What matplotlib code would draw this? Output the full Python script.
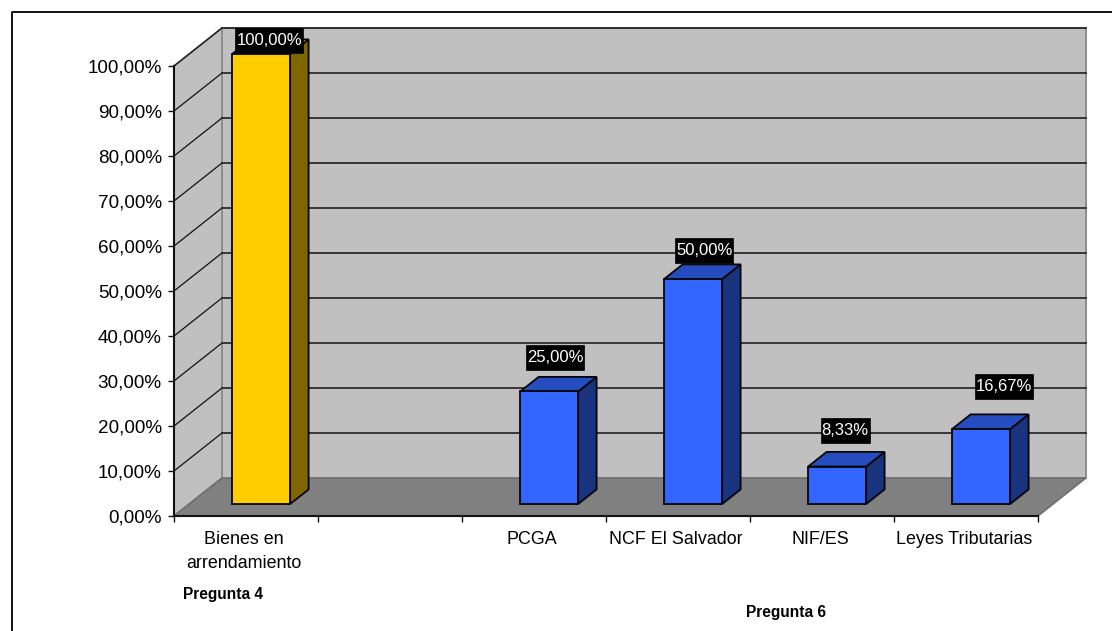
import numpy as np
import matplotlib
matplotlib.use("Agg")
import matplotlib.pyplot as plt
from matplotlib.patches import Polygon
from matplotlib.lines import Line2D
from matplotlib.path import Path
from matplotlib.transforms import ScaledTranslation

categories = ["Bienes en\narrendamiento", "", "PCGA", "NCF El Salvador", "NIF/ES", "Leyes Tributarias"]
values = [100.00, None, 25.00, 50.00, 8.33, 16.67]
value_labels = ["100,00%", None, "25,00%", "50,00%", "8,33%", "16,67%"]
y_ticks = [0, 10, 20, 30, 40, 50, 60, 70, 80, 90, 100]
y_tick_labels = ["0,00%", "10,00%", "20,00%", "30,00%", "40,00%", "50,00%",
                 "60,00%", "70,00%", "80,00%", "90,00%", "100,00%"]
group_notes = ["Pregunta 4", "Pregunta 6"]

# Label nudges in pixels, measured from the top centre of each bar's front face
label_nudges = [(8, 13), None, (6, 34), (11, 28), (8, 36), (23, 42)]
face_colors = ["#FFCC00", None, "#3366FF", "#3366FF", "#3366FF", "#3366FF"]
top_colors = ["#CCA300", None, "#264DBF", "#264DBF", "#264DBF", "#264DBF"]
side_colors = ["#7F6600", None, "#19337F", "#19337F", "#19337F", "#19337F"]

W, H = 1112, 631
plt.rcParams["font.family"] = ["Liberation Sans", "DejaVu Sans"]
fig = plt.figure(figsize=(W / 100, H / 100), dpi=100, facecolor="white")

# The axes span the front plane of the oblique 3D box
X0, X1, Y0, Y1 = 174, 1038, 516, 66
ax = fig.add_axes([X0 / W, 1 - Y0 / H, (X1 - X0) / W, (Y0 - Y1) / H])
ax.set_xlim(0, len(categories))
ax.set_ylim(0, 100)
ax.patch.set_visible(False)

# Depth of the box, expressed in data units per unit of depth
DX = 48 / ((X1 - X0) / len(categories))
DY = 38 / ((Y0 - Y1) / 100)


def project(x, v, d):
    return (x + d * DX, v + d * DY)


def face(points, color, edge, lw=1.0, z=1):
    ax.add_patch(Polygon([project(*p) for p in points], closed=True, facecolor=color,
                         edgecolor=edge, linewidth=lw, clip_on=False, zorder=z,
                         joinstyle="miter"))


def label_box(x0, y0, width, height, mutation_size):
    # Black plate with more padding above and below the digits than beside them
    px, py = 1.0, 5.0
    x_a, x_b = x0 - px, x0 + width + px
    y_a, y_b = y0 - py, y0 + height + py
    return Path([(x_a, y_a), (x_b, y_a), (x_b, y_b), (x_a, y_b), (x_a, y_a)], closed=True)


n = len(categories)
face([(0, 0, 1), (n, 0, 1), (n, 100, 1), (0, 100, 1)], "#C0C0C0", "#8C8C8C", 1.4, 1)
face([(0, 0, 0), (0, 0, 1), (0, 100, 1), (0, 100, 0)], "#C0C0C0", "#8C8C8C", 1.4, 1)
face([(0, 0, 0), (n, 0, 0), (n, 0, 1), (0, 0, 1)], "#808080", "#6E6E6E", 1.1, 2)

# Gridlines run along the side wall and then across the back wall
for t in y_ticks[1:]:
    xs, ys = zip(project(0, t, 0), project(0, t, 1))
    ax.add_line(Line2D(xs, ys, color="#111111", lw=0.9, clip_on=False, zorder=3))
    xs, ys = zip(project(0, t, 1), project(n, t, 1))
    ax.add_line(Line2D(xs, ys, color="#262626", lw=1.25, clip_on=False, zorder=3))

# Bars sit in the middle of the floor depth
D0, D1 = 0.316, 0.70
BAR_W = 58 / ((X1 - X0) / n)
for i, v in enumerate(values):
    if v is None:
        continue
    left = i + 0.5 - BAR_W / 2
    right = left + BAR_W
    z = 5
    edge = "#050505"
    face([(right, 0, D0), (right, 0, D1), (right, v, D1), (right, v, D0)], side_colors[i], edge, 1.3, z)
    face([(left, v, D0), (right, v, D0), (right, v, D1), (left, v, D1)], top_colors[i], edge, 1.3, z)
    face([(left, 0, D0), (right, 0, D0), (right, v, D0), (left, v, D0)], face_colors[i], edge, 1.3, z)
    ax.annotate(value_labels[i], xy=project(i + 0.5, v, D0), xycoords="data",
                xytext=label_nudges[i], textcoords="offset pixels",
                ha="center", va="center", color="white", fontsize=12, zorder=8,
                annotation_clip=False,
                bbox=dict(boxstyle=label_box, facecolor="black", edgecolor="black", linewidth=0.5))

for side in ("top", "right"):
    ax.spines[side].set_visible(False)
for side in ("left", "bottom"):
    ax.spines[side].set_linewidth(1.5)
    ax.spines[side].set_color("#111111")
    ax.spines[side].set_zorder(6)

ax.set_yticks(y_ticks)
ax.set_yticklabels(y_tick_labels, fontsize=13.6)
ax.tick_params(axis="y", length=4.3, width=1.0, pad=4.5, color="#111111")

ax.set_xticks(np.arange(n + 1))
ax.set_xticklabels([])
ax.set_xticks(np.arange(n) + 0.5, minor=True)
ax.set_xticklabels(categories, minor=True, fontsize=12.9, linespacing=1.48)
ax.tick_params(axis="x", which="major", length=4.3, width=1.0, color="#111111")
ax.tick_params(axis="x", which="minor", length=0, pad=11)

# Category labels sit slightly left of their slot centres
shift = ScaledTranslation(-2 / 100, 0, fig.dpi_scale_trans)
for lab in ax.get_xticklabels(minor=True):
    lab.set_transform(lab.get_transform() + shift)

fig.text(183 / W, 1 - 595 / H, group_notes[0], fontsize=11.2, fontweight="bold", ha="left", va="center")
fig.text(746 / W, 1 - 612.5 / H, group_notes[1], fontsize=11.2, fontweight="bold", ha="left", va="center")

# Open outer frame along the left and top edges of the canvas
fig.add_artist(Line2D([11.5 / W, 11.5 / W, 1], [0, 1 - 11.5 / H, 1 - 11.5 / H],
                      transform=fig.transFigure, color="black", lw=1.3))

fig.savefig("out.png", dpi=100, facecolor="white")
